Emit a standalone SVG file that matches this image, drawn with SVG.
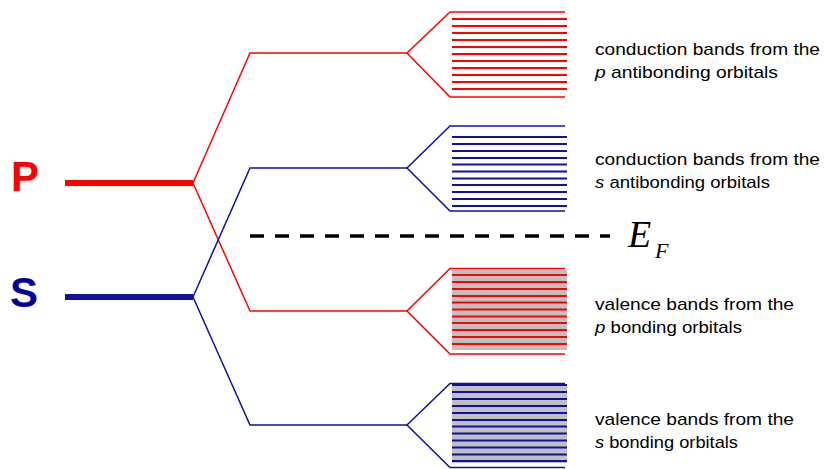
<svg xmlns="http://www.w3.org/2000/svg" width="825" height="469" viewBox="0 0 825 469">
<style>
.r{stroke:#ff0000;fill:none}
.b{stroke:#1010a0;fill:none}
.br{stroke-width:1.5}
.lv{stroke-width:6}
.bl{stroke-width:1.8}
.gray{fill:#c0c0c0;stroke:none}
.lbl{font-family:"Liberation Sans",Arial,sans-serif;font-size:17px;fill:#000}
.it{font-style:italic}
.big{font-family:"Liberation Sans",Arial,sans-serif;font-weight:bold;font-size:42px}
</style>
<rect width="825" height="469" fill="#fff"/>
<g id="P-level">
<text class="big" x="11" y="191" fill="#ff0000">P</text>
<line class="r lv" x1="65" y1="183" x2="193" y2="183"/>
</g>
<g id="S-level">
<text class="big" x="10" y="307" fill="#00009c">S</text>
<line class="b lv" x1="65" y1="297" x2="193" y2="297"/>
</g>
<g id="connectors">
<polyline class="r br" points="193,183 250,53 407,53"/>
<polyline class="r br" points="193,183 250,311 407,311"/>
<polyline class="b br" points="193,297 250,168 407,168"/>
<polyline class="b br" points="193,297 250,425 407,425"/>
</g>
<g id="p-antibonding-band">
<polyline class="r br" points="565,12 450,12 407,53 450,97 565,97"/>
<g class="r bl">
<line x1="452" x2="567" y1="19" y2="19"/>
<line x1="452" x2="567" y1="26" y2="26"/>
<line x1="452" x2="567" y1="33" y2="33"/>
<line x1="452" x2="567" y1="40" y2="40"/>
<line x1="452" x2="567" y1="47" y2="47"/>
<line x1="452" x2="567" y1="54" y2="54"/>
<line x1="452" x2="567" y1="61" y2="61"/>
<line x1="452" x2="567" y1="68" y2="68"/>
<line x1="452" x2="567" y1="75" y2="75"/>
<line x1="452" x2="567" y1="82" y2="82"/>
<line x1="452" x2="567" y1="89" y2="89"/>
</g>
<text class="lbl" x="595" y="55" textLength="225" lengthAdjust="spacingAndGlyphs">conduction bands from the</text>
<text class="lbl" x="595" y="78" textLength="183" lengthAdjust="spacingAndGlyphs"><tspan class="it">p</tspan> antibonding orbitals</text>
</g>
<g id="s-antibonding-band">
<polyline class="b br" points="565,126 450,126 407,168 450,211 565,211"/>
<g class="b bl">
<line x1="452" x2="567" y1="137" y2="137"/>
<line x1="452" x2="567" y1="144" y2="144"/>
<line x1="452" x2="567" y1="151" y2="151"/>
<line x1="452" x2="567" y1="158" y2="158"/>
<line x1="452" x2="567" y1="164.5" y2="164.5"/>
<line x1="452" x2="567" y1="171.5" y2="171.5"/>
<line x1="452" x2="567" y1="178.5" y2="178.5"/>
<line x1="452" x2="567" y1="185" y2="185"/>
<line x1="452" x2="567" y1="192" y2="192"/>
<line x1="452" x2="567" y1="199" y2="199"/>
<line x1="452" x2="567" y1="206" y2="206"/>
</g>
<text class="lbl" x="595" y="165" textLength="225" lengthAdjust="spacingAndGlyphs">conduction bands from the</text>
<text class="lbl" x="595" y="188" textLength="175" lengthAdjust="spacingAndGlyphs"><tspan class="it">s</tspan> antibonding orbitals</text>
</g>
<g id="fermi-level">
<line x1="250" y1="236" x2="610" y2="236" stroke="#000" stroke-width="3.5" stroke-dasharray="14 11"/>
<text x="628" y="247" font-family="'Liberation Serif','Times New Roman',serif" font-style="italic" font-size="38">E</text>
<text x="655" y="258" font-family="'Liberation Serif','Times New Roman',serif" font-style="italic" font-size="22">F</text>
</g>
<g id="p-bonding-band">
<rect class="gray" x="452" y="270" width="115" height="80"/>
<polyline class="r br" points="565,268.5 450,268.5 407,311 450,354 565,354"/>
<g class="r bl">
<line x1="452" x2="567" y1="275" y2="275"/>
<line x1="452" x2="567" y1="282" y2="282"/>
<line x1="452" x2="567" y1="289" y2="289"/>
<line x1="452" x2="567" y1="296" y2="296"/>
<line x1="452" x2="567" y1="302.5" y2="302.5"/>
<line x1="452" x2="567" y1="309.5" y2="309.5"/>
<line x1="452" x2="567" y1="316.5" y2="316.5"/>
<line x1="452" x2="567" y1="323" y2="323"/>
<line x1="452" x2="567" y1="330" y2="330"/>
<line x1="452" x2="567" y1="337" y2="337"/>
<line x1="452" x2="567" y1="344" y2="344"/>
</g>
<text class="lbl" x="595" y="310" textLength="199" lengthAdjust="spacingAndGlyphs">valence bands from the</text>
<text class="lbl" x="595" y="333" textLength="147" lengthAdjust="spacingAndGlyphs"><tspan class="it">p</tspan> bonding orbitals</text>
</g>
<g id="s-bonding-band">
<rect class="gray" x="452" y="384" width="115" height="79"/>
<polyline class="b br" points="565,383.5 450,383.5 407,425 450,467.5 565,467.5"/>
<g class="b bl">
<line x1="452" x2="567" y1="385" y2="385"/>
<line x1="452" x2="567" y1="392" y2="392"/>
<line x1="452" x2="567" y1="399" y2="399"/>
<line x1="452" x2="567" y1="406" y2="406"/>
<line x1="452" x2="567" y1="413" y2="413"/>
<line x1="452" x2="567" y1="420" y2="420"/>
<line x1="452" x2="567" y1="426.5" y2="426.5"/>
<line x1="452" x2="567" y1="433.5" y2="433.5"/>
<line x1="452" x2="567" y1="440.5" y2="440.5"/>
<line x1="452" x2="567" y1="447.5" y2="447.5"/>
<line x1="452" x2="567" y1="454.5" y2="454.5"/>
<line x1="452" x2="567" y1="461" y2="461"/>
</g>
<text class="lbl" x="595" y="425" textLength="199" lengthAdjust="spacingAndGlyphs">valence bands from the</text>
<text class="lbl" x="595" y="448" textLength="143" lengthAdjust="spacingAndGlyphs"><tspan class="it">s</tspan> bonding orbitals</text>
</g>
</svg>
